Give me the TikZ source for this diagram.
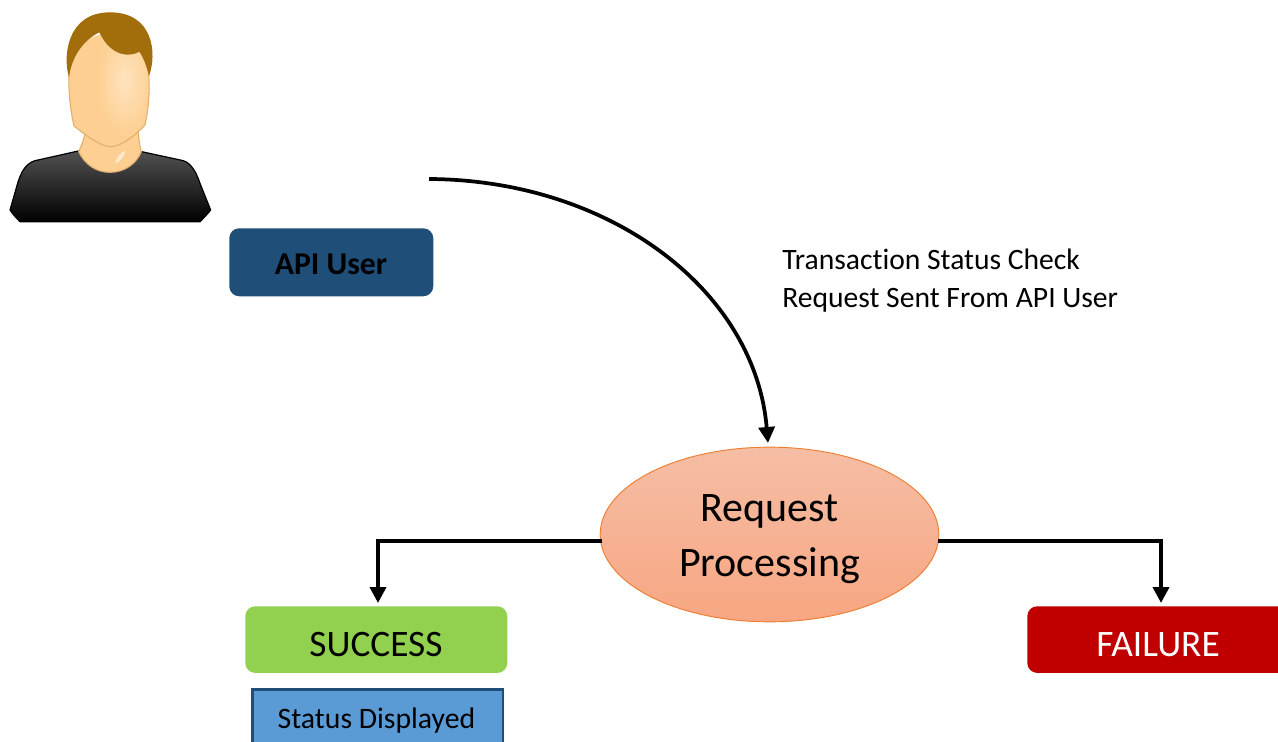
\documentclass[tikz,border=0pt]{standalone}
\usepackage{fontspec}
\setmainfont[Ligatures=NoCommon]{Carlito}
\usetikzlibrary{arrows.meta,shapes.geometric}
\definecolor{navy}{HTML}{1F4E79}
\definecolor{okgreen}{HTML}{92D050}
\definecolor{badred}{HTML}{C00000}
\definecolor{stblue}{HTML}{5B9BD5}
\definecolor{stedge}{HTML}{1F4E79}
\definecolor{ovedge}{HTML}{ED7D31}
\definecolor{ovtop}{HTML}{F6BEA5}
\definecolor{ovbot}{HTML}{F7A682}
\definecolor{hair}{HTML}{A26D0B}
\definecolor{skin}{HTML}{FDCF92}
\definecolor{skinhi}{HTML}{FFE3BE}
\definecolor{skinedge}{HTML}{E2AE6E}
\tikzset{
  x=0.75pt,y=-0.75pt,
  box/.style={rounded corners=7.5pt,inner sep=0pt,anchor=north west},
  flow/.style={draw=black,line width=2.8pt,-{Triangle[length=12pt,width=12pt]}},
}
\begin{document}
\begin{tikzpicture}
\useasboundingbox (0,0) rectangle (1278,742);
\clip (0,0) rectangle (1278,742);
% avatar, 1/3 scale of the zoom coordinates
\begin{scope}[x=0.25pt,y=-0.25pt]
\path[draw=black,line width=0.9pt,top color=black!68,bottom color=black]
  (30,630) -- (50,560) .. controls (62,515) and (78,490) .. (105,482)
  -- (235,453) -- (425,455) -- (550,482)
  .. controls (575,490) and (590,520) .. (600,550)
  -- (632,630) .. controls (620,645) and (610,655) .. (600,665) -- (60,665) .. controls (50,655) and (40,645) .. (30,630) -- cycle;
\path[draw=skinedge,line width=0.8pt,fill=skin]
  (255,395) .. controls (252,420) and (245,435) .. (236,455)
  .. controls (255,495) and (290,517) .. (330,517)
  .. controls (375,517) and (410,490) .. (424,455)
  .. controls (418,435) and (416,415) .. (415,390) -- cycle;
\path[fill=white,opacity=0.55] (345,490) .. controls (350,470) and (362,458) .. (377,452)
  .. controls (372,470) and (362,485) .. (345,490) -- cycle;
\begin{scope}
\clip (207,225) .. controls (205,280) and (212,335) .. (222,378)
  .. controls (250,400) and (300,440) .. (332,440)
  .. controls (365,440) and (410,402) .. (435,375)
  .. controls (445,330) and (450,280) .. (446,220)
  .. controls (440,60) and (215,60) .. (207,225) -- cycle;
\fill[skin] (190,60) rectangle (470,450);
\shade[inner color=skinhi,outer color=skin] (375,240) ellipse [x radius=85,y radius=170];
\end{scope}
\path[draw=skinedge,line width=0.8pt]
  (207,225) .. controls (205,280) and (212,335) .. (222,378)
  .. controls (250,400) and (300,440) .. (332,440)
  .. controls (365,440) and (410,402) .. (435,375)
  .. controls (445,330) and (450,280) .. (446,220);
\path[fill=hair]
  (207,232) .. controls (188,170) and (200,37) .. (330,37)
  .. controls (460,37) and (472,160) .. (447,228)
  .. controls (440,200) and (432,175) .. (418,155)
  .. controls (395,170) and (335,175) .. (298,97)
  .. controls (250,120) and (215,170) .. (207,232) -- cycle;
\end{scope}
% boxes
\node[box,fill=navy,minimum width=153pt,minimum height=51pt] (api) at (229,228) {};
\node[font=\fontsize{23.8}{28}\selectfont\bfseries] (apitext) at (331,264) {API User};
\node[ellipse,draw=ovedge,line width=0.7pt,top color=ovtop,bottom color=ovbot,minimum width=254pt,minimum height=131pt,inner sep=0pt] (proc) at (769.5,534.5) {};
\node[align=center,font=\fontsize{31.5}{41.5}\selectfont] (proctext) at (769.5,538) {\strut Request\\\strut Processing};
\node[box,fill=okgreen,minimum width=196.5pt,minimum height=50pt] (ok) at (245,606) {};
\node[font=\fontsize{28}{33}\selectfont] (oktext) at (376,645) {SUCCESS};
\node[box,fill=badred,minimum width=197pt,minimum height=50pt] (bad) at (1027,606) {};
\node[text=white,font=\fontsize{28}{33}\selectfont] (badtext) at (1158,645) {FAILURE};
\node[draw=stedge,line width=2pt,fill=stblue,minimum width=188pt,minimum height=56pt,inner sep=0pt,anchor=north west] (st) at (251,688) {};
\node[font=\fontsize{22.3}{27}\selectfont,anchor=center] (sttext) at (376.5,721) {Status Displayed};
\node[font=\fontsize{22.2}{28.5}\selectfont,align=left,anchor=north west,inner sep=0pt] (note) at (782,249) {Transaction Status Check\\Request Sent From API User};
% connectors
\coordinate (start) at (429,179);
\coordinate (tip) at (768,443);
\coordinate (okelbow) at (378,541);
\coordinate (oktip) at (378,603);
\coordinate (badelbow) at (1161,541);
\coordinate (badtip) at (1161,603);
\coordinate (pl) at (602,541);
\coordinate (pr) at (938,541);
\draw[flow] (start) .. controls (610,180) and (755,290) .. (tip);
\draw[flow] (pl) -- (okelbow) -- (oktip);
\draw[flow] (pr) -- (badelbow) -- (badtip);
\end{tikzpicture}
\end{document}
